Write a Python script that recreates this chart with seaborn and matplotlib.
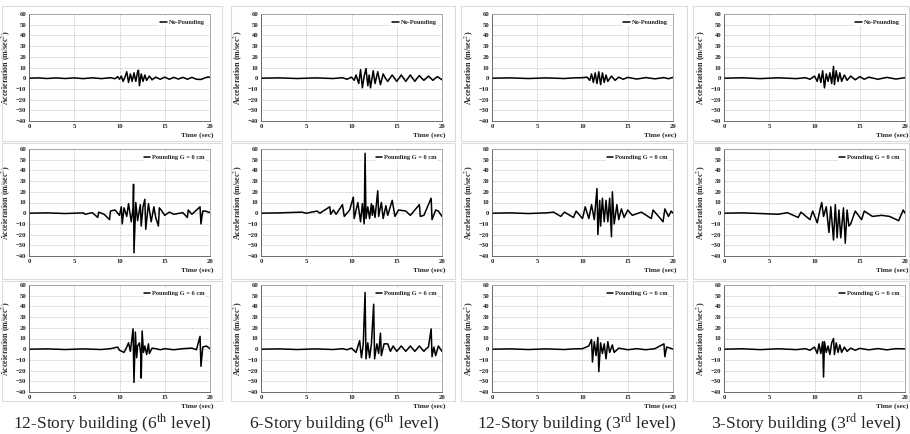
import matplotlib
matplotlib.use("Agg")
import matplotlib.pyplot as plt
import seaborn as sns
import pandas as pd
from matplotlib.patches import Rectangle

# ---- data (time in sec, acceleration in m/sec^2) ----
# 12-story building, 6th level
t_a1 = [0, 1, 2, 3, 4, 5, 6, 7, 8, 9, 9.5, 9.8, 10.0, 10.2, 10.4, 10.6, 10.8, 11.0, 11.2, 11.4,
        11.6, 11.8, 12.0, 12.1, 12.2, 12.4, 12.6, 12.8, 13.0, 13.3, 13.6, 14.0, 14.5, 15.0, 15.5,
        16.0, 16.5, 17.0, 17.5, 18.0, 18.5, 19.0, 19.5, 19.8, 20]
v_a1 = [0, 0.3, -0.3, 0.3, -0.3, 0.3, -0.4, 0.4, -0.4, 0.5, -0.5, 1.5, -1, 2, -3, 1, 6, -4, 4, -3,
        5, -3, 6, 7.5, -7, 4, -3, 3, -2, 2, -1.5, 1, -1, 1, -1, 0.8, -0.8, 0.8, -1, 0.8, -1,
        -1.2, 0.5, 1.2, 0.8]

t_a2 = [0, 2, 4, 6, 6.2, 7.0, 7.6, 7.7, 8.3, 8.9, 9.0, 9.5, 10.0, 10.2, 10.3, 10.5, 10.8, 11.0,
        11.3, 11.5, 11.55, 11.6, 11.8, 12.0, 12.3, 12.4, 12.6, 12.8, 12.9, 13.2, 13.5, 13.8, 14.0,
        14.3, 14.4, 14.6, 15.0, 15.5, 16.0, 17.0, 17.5, 17.6, 18.0, 18.9, 19.0, 19.2, 19.5, 20]
v_a2 = [0, 0.3, -0.3, 0.3, -1, 0.5, -4, 1, -1, -6, 2, 3, -2, 6, -10, 5, -3, 9, -8, 5, 27, -37,
        10, -7, 8, -12, 6, 13, -15, 9, -8, 6, -4, -12, 5, 3, -2, 1, -1, 0.5, -4, 3, -1, 6, -10,
        2, 2, 0.5]

t_a3 = [0, 2, 4, 6, 8, 9, 9.8, 10.0, 10.5, 10.8, 11.0, 11.2, 11.5, 11.6, 11.75, 11.9, 12.0, 12.2,
        12.35, 12.4, 12.5, 12.65, 12.8, 13.0, 13.2, 13.3, 13.6, 14.0, 14.5, 15.0, 16.0, 17.0, 18.0,
        18.5, 18.9, 19.0, 19.2, 19.6, 20]
v_a3 = [0, 0.3, -0.3, 0.3, -0.3, 0.5, 2, -1, -3, 2, 6, -2, 19, -31, 16, -8, 3, 6, -5, -27, 17,
        -3, 3, -5, 5, -4, 1, 0.5, -0.5, 0.5, -0.5, 0.5, 1, -0.5, 12, -16, 2, 3, 0.5]

# 6-story building, 6th level
t_b1 = [0, 2, 4, 6, 8, 9, 9.5, 10.0, 10.3, 10.5, 10.8, 11.0, 11.2, 11.4, 11.6, 11.8, 11.95, 12.1,
        12.4, 12.6, 12.9, 13.2, 13.5, 13.75, 14.0, 14.25, 14.5, 14.75, 15.0, 15.25, 15.5, 15.75,
        16.0, 16.25, 16.5, 16.75, 17.0, 17.25, 17.5, 17.75, 18.0, 18.25, 18.5, 18.75, 19.0, 19.25,
        19.5, 19.75, 20]
v_b1 = [0, 0.3, -0.3, 0.3, -0.3, 0.5, -1, 1, -2, 3, -5, 8, -9, 2, 9, -7, 3, -9, 7, -5, 6, -6, 4,
        0, -3, 0, 3, 0, -3, 0, 3, 0, -3, 0, 3, 0, -3, 0, 2.5, 0, -2, 0, 2, 0, -2, 0, 1.5, 0, -1.5]

t_b2 = [0, 2, 4.5, 5, 6.2, 6.5, 7.6, 7.7, 8.0, 8.3, 9.0, 9.2, 9.8, 10.2, 10.3, 10.7, 11.0, 11.2,
        11.4, 11.5, 11.6, 11.8, 12.0, 12.2, 12.3, 12.4, 12.6, 12.9, 13.0, 13.3, 13.5, 13.8, 14.0,
        14.5, 14.8, 15.2, 16.0, 16.5, 17.5, 17.6, 18.0, 18.8, 18.9, 19.3, 19.6, 20]
v_b2 = [0, 0.3, 1, 0, 2, 0, 6, -1, 3, -1, 8, -3, 3, 15, -5, 10, -8, 9, -10, 56, -5, 6, -5, 9,
        -2, 7, -4, 21, -3, 10, -5, 7, -2, 12, -3, 3, 2, -2, 8, -3, -2, 14, -6, 3, 2, -3]

t_b3 = [0, 2, 4, 6, 8, 9, 9.5, 10.0, 10.5, 10.9, 11.1, 11.3, 11.5, 11.6, 11.8, 12.0, 12.2, 12.45,
        12.55, 12.8, 13.0, 13.2, 13.3, 13.6, 14.0, 14.3, 14.6, 15.0, 15.25, 15.5, 15.75, 16.0,
        16.25, 16.5, 16.75, 17.0, 17.25, 17.5, 17.75, 18.0, 18.25, 18.5, 18.8, 18.9, 19.1, 19.3,
        19.6, 20]
v_b3 = [0, 0.3, -0.3, 0.3, -0.3, 0.5, -0.5, 1, -3, 8, -8, 5, 53, -9, 6, -8, 5, 42, -9, 5, -4,
        15, -6, 5, 5, -2, 3, -2, 0.5, 3, 0.5, -2, 0.5, 3, 0.5, -2, 0.5, 3, 0.5, -2, 0.5, 2, 19,
        -7, 2, -6, 3, -2]

# 12-story building, 3rd level
t_c1 = [0, 2, 4, 6, 8, 9, 10.0, 10.5, 10.8, 11.0, 11.2, 11.4, 11.6, 11.8, 12.0, 12.2, 12.4, 12.6,
        12.8, 13.2, 13.6, 14.0, 14.5, 15.0, 16.0, 17.0, 18.0, 19.0, 19.5, 20]
v_c1 = [0, 0.3, -0.3, 0.3, -0.3, 0.3, 0.5, 1, -2, 4, -4, 5, -5, 6, -6, 5, -4, 3, -3, 2, -2, 1,
        -1, 0.8, -0.8, 0.6, -0.6, 0.6, -0.5, 0.8]

t_c2 = [0, 2, 4, 6, 6.8, 7.6, 8.0, 9.0, 9.3, 10.0, 10.3, 10.7, 11.0, 11.3, 11.6, 11.7, 11.9,
        12.0, 12.2, 12.4, 12.6, 12.8, 13.0, 13.2, 13.3, 13.5, 13.8, 14.0, 14.3, 14.6, 15.0, 15.5,
        16.5, 17.6, 17.8, 18.9, 19.1, 19.5, 19.8, 20]
v_c2 = [0, 0.3, -0.3, 0.3, 1, -3, 1, -4, 2, -5, 6, -5, 8, -6, 23, -20, 12, -12, 14, -8, 12, -8,
        14, -22, 20, -10, 8, -6, 4, -4, 3, -2, 1, -5, 3, -8, 4, -3, 2, 0]

t_c3 = [0, 2, 4, 6, 8, 9, 10.0, 10.7, 11.0, 11.1, 11.3, 11.5, 11.7, 11.8, 12.0, 12.2, 12.4,
        12.6, 12.8, 13.0, 13.3, 13.5, 14.0, 15.0, 16.0, 17.0, 18.0, 19.0, 19.1, 19.3, 19.7, 20]
v_c3 = [0, 0.3, -0.3, 0.3, -0.3, 0.3, 0.5, 3, 9, -12, 7, -6, 11, -21, 6, -4, 5, -9, 7, -3, 4,
        -3, 1, -0.5, 0.5, -0.5, 0.5, 5, -7, 2, 1, 0]

# 3-story building, 3rd level
t_d1 = [0, 2, 4, 6, 8, 9, 9.5, 10.0, 10.3, 10.5, 10.7, 10.9, 11.1, 11.3, 11.5, 11.7, 11.9, 12.1,
        12.2, 12.4, 12.6, 12.8, 13.0, 13.3, 13.6, 14.0, 14.5, 15.0, 15.5, 16.0, 17.0, 18.0, 19.0,
        20]
v_d1 = [0, 0.4, -0.4, 0.4, -0.4, 0.5, -1, 2, -3, 4, -4, 7, -9, 4, -3, 5, -5, 11, -6, 7, -3, 5,
        -3, 3, -2, 2, -1.5, 1.5, -1, 1, -1, 0.8, -0.8, 0.5]

t_d2 = [0, 2, 4, 6, 7, 8.2, 8.5, 9.5, 9.8, 10.3, 10.6, 10.8, 11.0, 11.3, 11.6, 11.8, 12.1, 12.3,
        12.5, 12.7, 12.9, 13.2, 13.4, 13.6, 13.8, 14.0, 14.5, 15.2, 15.5, 16.4, 17.4, 18.3, 19.3,
        19.8, 20]
v_d2 = [0, 0.3, -0.3, -1, 0.5, -4, 1, -6, 2, -9, 3, 10, -3, 6, -18, 6, -25, 8, -23, 3, -23, 5,
        -28, 3, -12, -10, 2, -6, 2, -3, -2, -3, -7, 3, 0]

t_d3 = [0, 2, 4, 6, 8, 9, 9.5, 10.0, 10.3, 10.5, 10.7, 10.9, 11.0, 11.1, 11.3, 11.5, 11.7, 11.9,
        12.1, 12.2, 12.4, 12.6, 12.8, 13.0, 13.3, 13.6, 14.0, 14.5, 15.0, 16.0, 17.0, 18.0, 19.0,
        20]
v_d3 = [0, 0.4, -0.4, 0.4, -0.4, 0.5, -1, 2, -4, 5, -4, 7, -26, 7, -3, 3, -5, 6, 10, -5, 6, -3,
        4, -3, 2, -2, 1, -1, 0.8, -0.6, 0.6, -0.6, 0.5, 0.3]

captions = ["12-Story building (6$^{\\rm th}$ level)", "6-Story building (6$^{\\rm th}$ level)",
            "12-Story building (3$^{\\rm rd}$ level)", "3-Story building (3$^{\\rm rd}$ level)"]
case_labels = ["No-Pounding", "Pounding G = 0 cm", "Pounding G = 6 cm"]

series = [
    [(t_a1, v_a1), (t_a2, v_a2), (t_a3, v_a3)],
    [(t_b1, v_b1), (t_b2, v_b2), (t_b3, v_b3)],
    [(t_c1, v_c1), (t_c2, v_c2), (t_c3, v_c3)],
    [(t_d1, v_d1), (t_d2, v_d2), (t_d3, v_d3)],
]

sns.set_theme(style="white")
plt.rcParams["font.family"] = ["Liberation Serif", "DejaVu Serif"]
plt.rcParams["mathtext.fontset"] = "stix"

W, H = 910, 434
fig = plt.figure(figsize=(W / 100, H / 100), dpi=100)

col_left = [29, 261, 492, 724]
row_top = [14, 149, 285]
ax_w, ax_h = 181, 107
box_x = [(2, 222), (231, 455), (461, 687), (693, 909)]
box_y = [(6, 141), (143, 279), (281, 401)]
caption_x = [112, 344, 577, 806]

for c in range(4):
    for r in range(3):
        # light frame around each panel
        bx0, bx1 = box_x[c]
        by0, by1 = box_y[r]
        fig.patches.append(Rectangle((bx0 / W, 1 - by1 / H), (bx1 - bx0) / W, (by1 - by0) / H,
                                     transform=fig.transFigure, fill=False,
                                     edgecolor="#dcdcdc", linewidth=0.8))

        ax = fig.add_axes([col_left[c] / W, 1 - (row_top[r] + ax_h) / H, ax_w / W, ax_h / H])
        t, v = series[c][r]
        df = pd.DataFrame({"time": t, "acc": v})
        sns.lineplot(data=df, x="time", y="acc", ax=ax, color="black", linewidth=1.1,
                     label=case_labels[r])

        ax.set_xlim(0, 20)
        ax.set_ylim(-40, 60)
        ax.set_xticks(range(0, 21, 5))
        ax.set_yticks(range(-40, 61, 10))
        ax.grid(True, linestyle=(0, (1, 1)), color="#b0b0b0", linewidth=0.5)
        for s in ax.spines.values():
            s.set_color("#9a9a9a")
            s.set_linewidth(0.6)
        ax.spines["left"].set_color("#555555")
        ax.spines["bottom"].set_color("#555555")
        ax.tick_params(axis="both", length=0, pad=2, labelsize=4.8, colors="#222222")
        for lab in ax.get_xticklabels() + ax.get_yticklabels():
            lab.set_fontweight("bold")

        ax.set_ylabel("Acceleration (m/sec$^2$)", fontsize=5.8, fontweight="bold")
        ax.yaxis.set_label_coords(-0.09, 0.5)
        ax.set_xlabel("Time (sec)", fontsize=5.3, fontweight="bold")
        ax.xaxis.set_label_coords(1.02, -0.105)
        ax.xaxis.label.set_horizontalalignment("right")

        leg = ax.legend(loc="upper right", fontsize=4.6, handlelength=1.0, handletextpad=0.3,
                        borderaxespad=0.7, frameon=True, fancybox=False, framealpha=1,
                        edgecolor="none", facecolor="white", borderpad=0.15)
        for txt in leg.get_texts():
            txt.set_fontweight("bold")

    fig.text(caption_x[c] / W, 1 - 423 / H, captions[c], ha="center",
             va="center", fontsize=12.6)

fig.savefig("out.png", dpi=100)
